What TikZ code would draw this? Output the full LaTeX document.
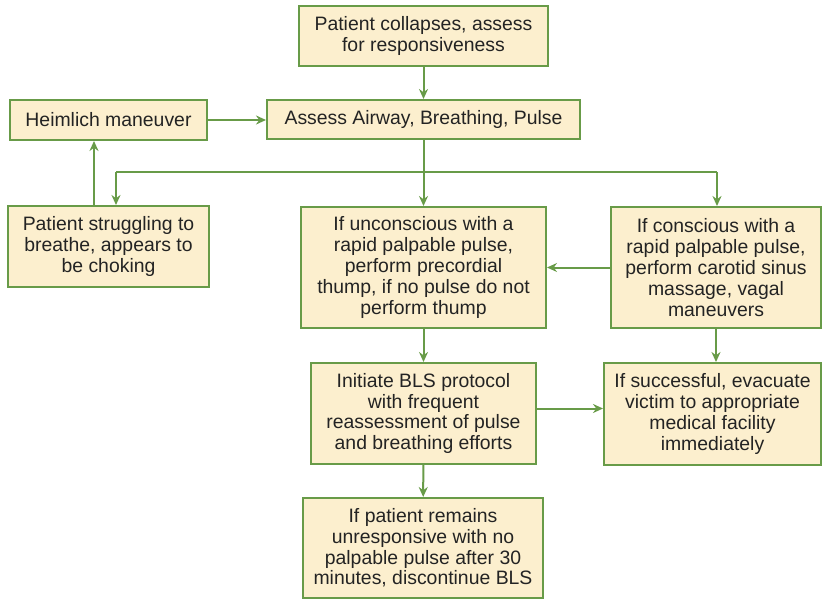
\documentclass[tikz,border=0pt]{standalone}
\usepackage{fontspec}
\setmainfont{Liberation Sans}
\usetikzlibrary{arrows.meta}
\definecolor{boxfill}{RGB}{252,239,206}
\definecolor{boxline}{RGB}{104,155,72}
\definecolor{boxtext}{RGB}{35,35,35}

\begin{document}
\begin{tikzpicture}[x=1pt,y=-1pt,
		box/.style={draw=boxline,fill=boxfill,line width=2pt,align=center,inner sep=0pt,text=boxtext,font=\fontsize{19.4}{20.8}\selectfont},
		link/.style={draw=boxline,line width=2pt,-{Stealth[length=10pt,width=9pt]}},
		plain/.style={draw=boxline,line width=2pt}]
		\useasboundingbox ( 0, 0 ) rectangle ( 822, 599 );

		% верхний ряд
		\node [box,minimum width=249pt,minimum height=60pt] (collapse) at ( 423.5, 36 ) {Patient collapses, assess\\for responsiveness};
		\node [box,minimum width=313pt,minimum height=39pt] (assess) at ( 423.5, 119.5 ) {Assess Airway, Breathing, Pulse};
		\node [box,minimum width=197pt,minimum height=40pt] (heimlich) at ( 108.5, 120 ) {Heimlich maneuver};

		% средний ряд
		\node [box,minimum width=201pt,minimum height=81pt] (choking) at ( 108.5, 246.5 ) {Patient struggling to\\breathe, appears to\\be choking};
		\node [box,minimum width=245pt,minimum height=121pt] (unconscious) at ( 423.5, 267.5 ) {If unconscious with a\\rapid palpable pulse,\\perform precordial\\thump, if no pulse do not\\perform thump};
		\node [box,minimum width=210pt,minimum height=121pt] (conscious) at ( 716, 267.5 ) {If conscious with a\\rapid palpable pulse,\\perform carotid sinus\\massage, vagal\\maneuvers};

		% нижние ряды
		\node [box,minimum width=225pt,minimum height=101pt] (bls) at ( 423.5, 413.5 ) {Initiate BLS protocol\\with frequent\\reassessment of pulse\\and breathing efforts};
		\node [box,minimum width=217pt,minimum height=102pt] (success) at ( 712.5, 414 ) {If successful, evacuate\\victim to appropriate\\medical facility\\immediately};
		\node [box,minimum width=240pt,minimum height=100pt] (stop) at ( 423, 548 ) {If patient remains\\unresponsive with no\\palpable pulse after 30\\minutes, discontinue BLS};

		% развилка
		\coordinate (dropL) at ( 116, 172 );
		\coordinate (dropR) at ( 717, 172 );

		% стрелки
		\draw [link] (collapse) -- (assess);
		\draw [link] (heimlich.east) -- (heimlich.east -| assess.west);
		\draw [link] (assess) -- (unconscious);
		\draw [plain] (dropL) -- (dropR);
		\draw [link] (dropL) -- (dropL |- choking.north);
		\draw [link] (dropR) -- (dropR |- conscious.north);
		\draw [link] ([xshift=-14.5pt]choking.north) -- ([xshift=-14.5pt]heimlich.south);
		\draw [link] (conscious.west) -- (unconscious.east);
		\draw [link] (unconscious) -- (bls);
		\draw [link] (conscious.south) -- (conscious.south |- success.north);
		\draw [link] ([yshift=5pt]bls.east) -- ([yshift=5pt]bls.east -| success.west);
		\draw [link] (bls) -- (stop);
	\end{tikzpicture}
\end{document}
